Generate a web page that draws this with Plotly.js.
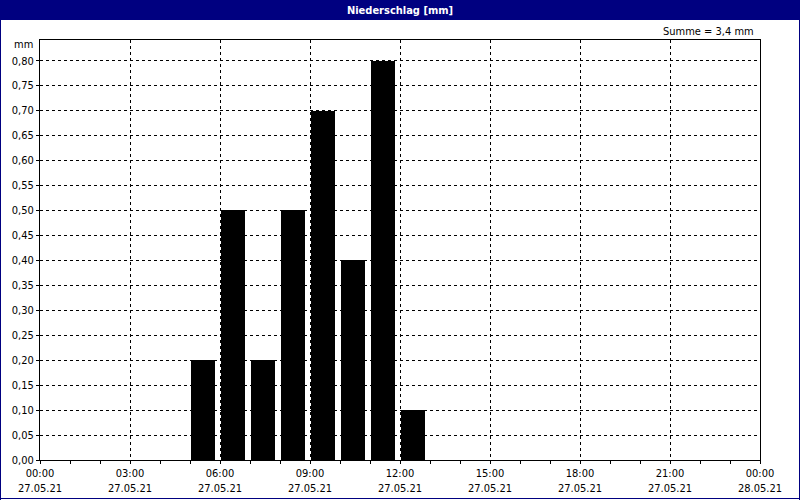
<!DOCTYPE html>
<html>
<head>
<meta charset="utf-8">
<script src="https://cdn.plot.ly/plotly-3.0.1.min.js"></script>
<style>html,body{margin:0;padding:0;background:#fff;}#chart{width:800px;height:500px;}</style>
</head>
<body>
<div id="chart"></div>
<script>
// Data
const hourStarts = ["2021-05-27 05:00","2021-05-27 06:00","2021-05-27 07:00","2021-05-27 08:00","2021-05-27 09:00","2021-05-27 10:00","2021-05-27 11:00","2021-05-27 12:00"];
const precipMm = [0.2, 0.5, 0.2, 0.5, 0.7, 0.4, 0.8, 0.1];
const xTickVals = ["2021-05-27 00:00","2021-05-27 03:00","2021-05-27 06:00","2021-05-27 09:00","2021-05-27 12:00","2021-05-27 15:00","2021-05-27 18:00","2021-05-27 21:00","2021-05-28 00:00"];
const xTickTimes = ["00:00","03:00","06:00","09:00","12:00","15:00","18:00","21:00","00:00"];
const xTickDates = ["27.05.21","27.05.21","27.05.21","27.05.21","27.05.21","27.05.21","27.05.21","27.05.21","28.05.21"];
const titleText = "Niederschlag [mm]";
const unitText = "mm";
const sumText = "Summe = 3,4 mm";

const HOUR = 3600000;
const font = "Tahoma, 'DejaVu Sans Condensed', 'Liberation Sans', Arial, sans-serif";

const trace = {
  type: "bar",
  x: hourStarts,
  y: precipMm,
  offset: 0.045 * HOUR,
  width: 0.8 * HOUR,
  marker: {color: "#000000", line: {width: 0}},
  hoverinfo: "x+y"
};

// pixel -> paper helpers (plot area 40..760 x 40..460)
const px = p => (p - 40) / 720;
const py = p => (460 - p) / 420;

const layout = {
  width: 800, height: 500,
  margin: {l: 40, r: 40, t: 40, b: 40, pad: 0},
  paper_bgcolor: "#ffffff",
  plot_bgcolor: "#ffffff",
  separators: ",.",
  font: {family: font, size: 11, color: "#000000"},
  showlegend: false,
  bargap: 0,
  title: {
    text: "<b>" + titleText + "</b>",
    font: {family: font, size: 11, color: "#ffffff"},
    x: 0.5, xanchor: "center",
    y: 1 - 10/500, yanchor: "middle",
    yref: "container", xref: "paper"
  },
  xaxis: {
    type: "date",
    range: ["2021-05-27 00:00", "2021-05-28 00:00"],
    tickmode: "array",
    tickvals: xTickVals,
    ticktext: xTickTimes.map((t, i) => t + "<br>" + xTickDates[i]),
    ticks: "outside", ticklen: 3, tickcolor: "#000", tickwidth: 1,
    minor: {dtick: HOUR, tick0: "2021-05-27 00:00", ticks: "outside", ticklen: 3, tickcolor: "#000", showgrid: false},
    showgrid: true, gridcolor: "#000000", gridwidth: 1, griddash: "3px,3px",
    showline: true, linecolor: "#000000", linewidth: 1, mirror: true,
    zeroline: false,
    tickfont: {family: font, size: 11, color: "#000"},
    fixedrange: true
  },
  yaxis: {
    range: [0, 0.8414],
    tickmode: "linear", tick0: 0, dtick: 0.05,
    tickformat: ".2f",
    ticks: "outside", ticklen: 3, tickcolor: "#000",
    showgrid: true, gridcolor: "#000000", gridwidth: 1, griddash: "3px,3px",
    showline: true, linecolor: "#000000", linewidth: 1, mirror: true,
    zeroline: false,
    tickfont: {family: font, size: 11, color: "#000"},
    fixedrange: true
  },
  shapes: [
    {type: "rect", xref: "paper", yref: "paper", x0: px(0), x1: px(800), y0: py(0), y1: py(20), fillcolor: "#000080", line: {width: 0}, layer: "below"},
    {type: "line", xref: "paper", yref: "paper", x0: px(0.5), x1: px(0.5), y0: py(0), y1: py(500), line: {color: "#000080", width: 1}},
    {type: "line", xref: "paper", yref: "paper", x0: px(799.5), x1: px(799.5), y0: py(0), y1: py(500), line: {color: "#000080", width: 1}},
    {type: "line", xref: "paper", yref: "paper", x0: px(0), x1: px(800), y0: py(498.5), y1: py(498.5), line: {color: "#000080", width: 1}}
  ],
  annotations: [
    {xref: "paper", yref: "paper", x: px(35), y: py(45), xanchor: "right", yanchor: "middle", text: unitText, showarrow: false, font: {family: font, size: 11, color: "#000"}},
    {xref: "paper", yref: "paper", x: px(756), y: py(31), xanchor: "right", yanchor: "middle", text: sumText, showarrow: false, font: {family: font, size: 11, color: "#000"}}
  ]
};

Plotly.newPlot("chart", [trace], layout, {displayModeBar: false, staticPlot: true});
</script>
</body>
</html>
